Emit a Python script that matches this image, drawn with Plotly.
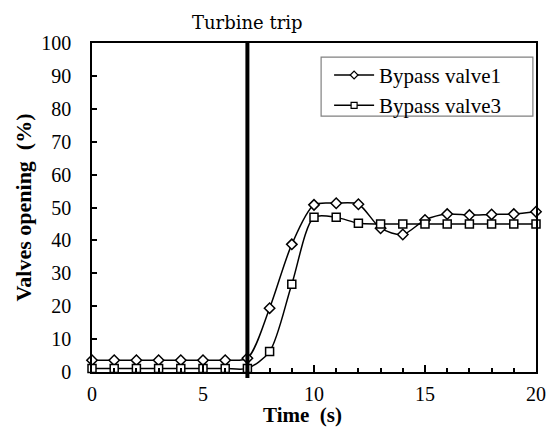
import plotly.graph_objects as go

time = list(range(0, 21))
valve1 = [3.6, 3.6, 3.6, 3.6, 3.6, 3.6, 3.6, 4.2, 19.4, 38.8, 50.8, 51.3, 51.0,
          43.7, 41.8, 46.2, 48.0, 47.7, 47.9, 48.0, 48.7]
valve3 = [1.1, 1.1, 1.1, 1.1, 1.1, 1.1, 1.1, 1.1, 6.2, 26.7, 47.0, 47.0, 45.2,
          45.0, 45.0, 45.0, 45.0, 45.0, 45.0, 45.0, 45.0]
series_names = ["Bypass valve1", "Bypass valve3"]
trip_time = 7
trip_label = "Turbine trip"
x_title = "<b>Time  (s)</b>"
y_title = "<b>Valves opening  (%)</b>"

font = "Liberation Serif, Times New Roman, serif"

fig = go.Figure()
for name, vals, sym, size in [(series_names[0], valve1, "diamond", 8),
                              (series_names[1], valve3, "square", 8)]:
    fig.add_trace(go.Scatter(
        x=time, y=vals, name=name, mode="lines+markers", showlegend=False,
        line=dict(color="black", width=1.5, shape="spline", smoothing=0.8),
        marker=dict(symbol=sym, size=size, color="white",
                    line=dict(color="black", width=1.5)),
        cliponaxis=False))
# legend entries with small symbols, as in the reference
for name, sym, size in [(series_names[0], "diamond", 6), (series_names[1], "square", 6)]:
    fig.add_trace(go.Scatter(
        x=[None], y=[None], name=name, mode="lines+markers",
        line=dict(color="black", width=1.5),
        marker=dict(symbol=sym, size=size, color="white",
                    line=dict(color="black", width=1.2))))

fig.add_shape(type="line", x0=trip_time, x1=trip_time, xref="x", yref="paper",
              y0=-0.018, y1=1, line=dict(color="black", width=4))
# legend frame
fig.add_shape(type="rect", xref="paper", yref="paper", x0=0.516, x1=0.993,
              y0=0.778, y1=0.957, line=dict(color="#808080", width=1.2),
              fillcolor="white", layer="above")
fig.add_annotation(x=trip_time, y=1.025, xref="x", yref="paper", text=trip_label,
                   showarrow=False, yanchor="bottom",
                   font=dict(family="DejaVu Serif, serif", size=18, color="black"))
fig.add_annotation(x=0.473, y=-0.131, xref="paper", yref="paper", text=x_title,
                   showarrow=False, yanchor="middle", xanchor="center",
                   font=dict(family=font, size=21, color="black"))

fig.update_layout(
    width=547, height=430,
    margin=dict(l=92, r=11, t=43, b=58, autoexpand=False),
    paper_bgcolor="white", plot_bgcolor="white",
    font=dict(family=font, size=20, color="black"),
    showlegend=True,
    legend=dict(x=0.534, y=0.964, xanchor="left", yanchor="top",
                borderwidth=0, bgcolor="rgba(0,0,0,0)",
                font=dict(family=font, size=21), tracegroupgap=0,
                itemwidth=40),
    xaxis=dict(range=[0, 20], tickvals=[0, 5, 10, 15, 20], ticks="inside",
               ticklen=7, tickwidth=1.5, tickcolor="black", ticklabelstandoff=3,
               minor=dict(dtick=1, ticks="inside", ticklen=4, tickwidth=1.5, tickcolor="black"),
               showline=True, linecolor="black", linewidth=1.5, mirror=True,
               showgrid=False, zeroline=False, automargin=False),
    yaxis=dict(range=[0, 100], dtick=10, ticks="inside", ticklen=5, tickwidth=1.5,
               tickcolor="black", ticklabelstandoff=15, showline=True, linecolor="black",
               linewidth=1.5, mirror=True, showgrid=False, zeroline=False, automargin=False,
               title=dict(text=y_title, font=dict(size=22), standoff=4)),
)

fig.write_html("out.html", config={"displayModeBar": False},
               post_script="document.body.style.margin='0';")
